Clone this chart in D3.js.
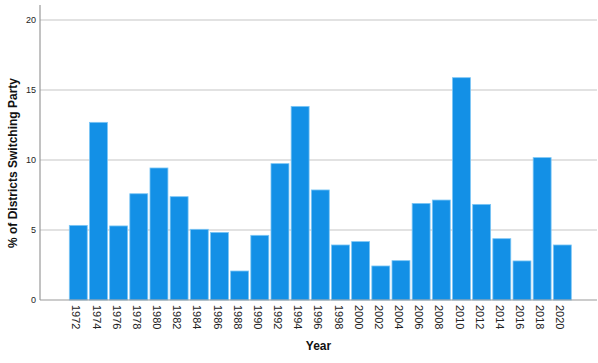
<!DOCTYPE html>
<html><head><meta charset="utf-8">
<script src="https://cdn.jsdelivr.net/npm/d3@7"></script>
<style>body{margin:0;background:#fff}svg{display:block}</style>
</head><body>
<script>
const years = ["1972","1974","1976","1978","1980","1982","1984","1986","1988","1990","1992","1994","1996","1998","2000","2002","2004","2006","2008","2010","2012","2014","2016","2018","2020"];
const pctSwitching = [5.33,12.69,5.29,7.59,9.43,7.38,5.05,4.83,2.07,4.62,9.74,13.83,7.86,3.93,4.17,2.43,2.81,6.90,7.14,15.88,6.83,4.38,2.79,10.17,3.93];
const yTicks = [0,5,10,15,20];
const xTitle = "Year";
const yTitle = "% of Districts Switching Party";

const W = 598, H = 363;
const svg = d3.select("body").append("svg").attr("width", W).attr("height", H);
const font = "'Liberation Sans', Arial, sans-serif";

const y = d3.scaleLinear().domain([0, 20]).range([300, 20]);
const x = d3.scaleBand().domain(years).range([68.2, 572.4]).paddingInner(0.11).paddingOuter(0.055);

// gridlines
svg.append("g").selectAll("line").data(yTicks.filter(d => d > 0)).join("line")
  .attr("x1", 40).attr("x2", 597).attr("y1", d => y(d)).attr("y2", d => y(d))
  .attr("stroke", "#d9d9d9").attr("stroke-width", 1.5);

// bars
svg.append("g").selectAll("rect").data(years).join("rect")
  .attr("x", d => x(d)).attr("width", x.bandwidth())
  .attr("y", (d, i) => y(pctSwitching[i]))
  .attr("height", (d, i) => y(0) - y(pctSwitching[i]))
  .attr("fill", "#1390e6").attr("stroke", "#7cc6f5").attr("stroke-width", 0.8);

// y axis
const yAxis = svg.append("g").attr("transform", "translate(40,0)")
  .call(d3.axisLeft(y).tickValues(yTicks).tickSize(0).tickPadding(4));
yAxis.select(".domain").attr("stroke", "#999").attr("stroke-width", 1.2).attr("d", "M0,5V300");
yAxis.selectAll("text").attr("font-family", font).attr("font-size", 9).attr("fill", "#222");

// x axis
const xAxis = svg.append("g").attr("transform", "translate(0,300)")
  .call(d3.axisBottom(x).tickSize(0));
xAxis.select(".domain").attr("stroke", "#999").attr("stroke-width", 1.2).attr("d", "M40,0H597");
xAxis.selectAll("text")
  .attr("font-family", font).attr("font-size", 11).attr("fill", "#222")
  .attr("transform", "rotate(90)")
  .attr("text-anchor", "start")
  .attr("x", 5).attr("y", 0).attr("dy", "0.35em").attr("dx", 0);
xAxis.selectAll("g.tick").attr("transform", d => `translate(${x(d) + x.bandwidth()/2 - 2},0)`);

// titles
svg.append("text").attr("x", 318.5).attr("y", 350).attr("text-anchor", "middle")
  .attr("font-family", font).attr("font-size", 12).attr("font-weight", "bold").attr("fill", "#111").text(xTitle);
svg.append("text").attr("transform", "translate(17,163) rotate(-90)").attr("text-anchor", "middle")
  .attr("font-family", font).attr("font-size", 12).attr("font-weight", "bold").attr("fill", "#111").text(yTitle);
</script>
</body></html>
